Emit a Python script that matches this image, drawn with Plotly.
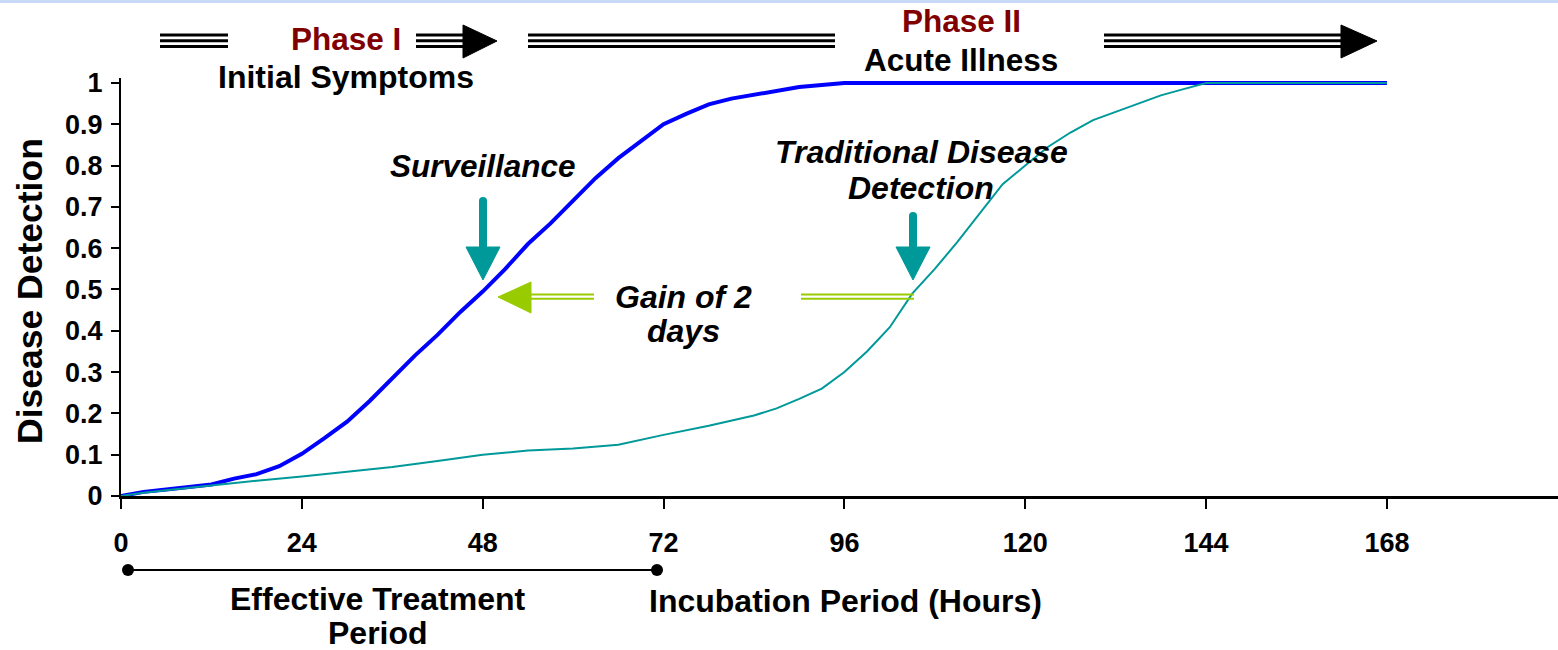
import plotly.graph_objects as go

# ---------------- data ----------------
surv_hours = [0, 3, 6, 9, 12, 15, 18, 21, 24, 27, 30, 33, 36, 39, 42, 45, 48, 51, 54, 57,
              60, 63, 66, 69, 72, 75, 78, 81, 84, 87, 90, 93, 96, 108, 120, 132, 144, 156, 168]
surv_values = [0, 0.01, 0.016, 0.022, 0.028, 0.042, 0.053, 0.072, 0.102, 0.14, 0.18, 0.23,
               0.285, 0.34, 0.39, 0.445, 0.495, 0.55, 0.61, 0.66, 0.715, 0.77, 0.818, 0.86,
               0.9, 0.925, 0.948, 0.962, 0.972, 0.98, 0.99, 0.995, 1.0, 1.0, 1.0, 1.0, 1.0, 1.0, 1.0]

trad_hours = [0, 3, 6, 12, 18, 24, 30, 36, 42, 48, 54, 60, 66, 72, 78, 84, 87, 90, 93, 96,
              99, 102, 105, 108, 111, 114, 117, 120, 123, 126, 129, 132, 135, 138, 141, 144,
              150, 156, 162, 168]
trad_values = [0, 0.008, 0.014, 0.026, 0.037, 0.047, 0.058, 0.07, 0.085, 0.1, 0.11, 0.115,
               0.124, 0.148, 0.17, 0.195, 0.212, 0.235, 0.26, 0.3, 0.35, 0.408, 0.49, 0.55,
               0.615, 0.685, 0.755, 0.8, 0.845, 0.88, 0.91, 0.93, 0.95, 0.97, 0.985, 1.0,
               1.0, 1.0, 1.0, 1.0]

x_ticks = [0, 24, 48, 72, 96, 120, 144, 168]
y_ticks = [0, 0.1, 0.2, 0.3, 0.4, 0.5, 0.6, 0.7, 0.8, 0.9, 1]
y_ticktext = ["0", "0.1", "0.2", "0.3", "0.4", "0.5", "0.6", "0.7", "0.8", "0.9", "1"]

# ---------------- layout geometry ----------------
W, H = 1558, 650
ML, MR, MT, MB = 121, 0, 78, 154
PW, PH = W - ML - MR, H - MT - MB
FONT = "Liberation Sans, Arial, sans-serif"
TEAL = "#009999"
BLUE = "#0000FF"
GREEN = "#99CC00"
DARKRED = "#800000"


def px(xp):
    return (xp - ML) / PW


def py(yp):
    return (H - MB - yp) / PH


fig = go.Figure()
fig.add_trace(go.Scatter(x=surv_hours, y=surv_values, mode="lines",
                         line=dict(color=BLUE, width=4), hoverinfo="skip", showlegend=False))
fig.add_trace(go.Scatter(x=trad_hours, y=trad_values, mode="lines",
                         line=dict(color=TEAL, width=2), hoverinfo="skip", showlegend=False))

shapes = []


def pline(x0, y0, x1, y1, color, width):
    shapes.append(dict(type="line", xref="paper", yref="paper",
                       x0=px(x0), y0=py(y0), x1=px(x1), y1=py(y1),
                       line=dict(color=color, width=width)))


def ppath(points, color):
    d = "M " + " L ".join(f"{px(a):.5f},{py(b):.5f}" for a, b in points) + " Z"
    shapes.append(dict(type="path", xref="paper", yref="paper", path=d,
                       fillcolor=color, line=dict(color=color, width=1)))


# top light blue strip
shapes.append(dict(type="rect", xref="paper", yref="paper", x0=px(0), x1=px(W),
                   y0=py(3), y1=py(0), fillcolor="#C9DAF8", line=dict(width=0)))

# triple-line arrows at top
for (a, b) in [(160, 228), (416, 466), (528, 835), (1104, 1343)]:
    for yy in (35, 40.7, 46.4):
        pline(a, yy, b, yy, "black", 3)
ppath([(463, 25), (497, 41), (463, 58)], "black")
ppath([(1341, 25), (1377, 41), (1341, 58)], "black")

# teal down arrows
for xc, ytop in [(483, 201), (913, 216)]:
    pline(xc, ytop, xc, 250, TEAL, 8)
    shapes.append(dict(type="circle", xref="paper", yref="paper",
                       x0=px(xc - 4), x1=px(xc + 4), y0=py(ytop + 4), y1=py(ytop - 4),
                       fillcolor=TEAL, line=dict(width=0)))
    ppath([(xc - 17, 247), (xc + 17, 247), (xc, 280)], TEAL)

# green "gain" arrow
for yy in (294.5, 298.8):
    pline(530, yy, 594, yy, GREEN, 2)
    pline(801, yy, 914, yy, GREEN, 2)
ppath([(531, 282), (531, 313), (498, 297)], GREEN)

# effective treatment dumbbell
pline(128, 570, 657, 570, "black", 2)
for xc in (128, 657):
    shapes.append(dict(type="circle", xref="paper", yref="paper",
                       x0=px(xc - 6), x1=px(xc + 6), y0=py(576), y1=py(564),
                       fillcolor="black", line=dict(width=0)))

annotations = []


def text(t, xc, yc, size, color="black", italic=False, angle=0):
    annotations.append(dict(text=t, xref="paper", yref="paper", x=px(xc), y=py(yc),
                            xanchor="center", yanchor="middle", showarrow=False,
                            textangle=angle, align="center",
                            font=dict(family=FONT, size=size, color=color, weight="bold",
                                      style="italic" if italic else "normal")))


text("Phase I", 346, 39, 31.5, DARKRED)
text("Initial Symptoms", 346, 77, 32)
text("Phase II", 961, 21, 31.5, DARKRED)
text("Acute Illness", 961, 60, 31.5)
text("Surveillance", 483, 166, 31.5, italic=True)
text("Traditional Disease", 921, 152, 32, italic=True)
text("Detection", 921, 188, 32, italic=True)
text("Gain of 2", 683, 297, 32, italic=True)
text("days", 683, 331, 32, italic=True)
text("Effective Treatment", 378, 599, 32)
text("Period", 378, 633, 32)
text("Incubation Period (Hours)", 845, 601, 32)
text("Disease Detection", 30, 291, 35.5, angle=-90)

fig.update_layout(
    width=W, height=H,
    margin=dict(l=ML, r=MR, t=MT, b=MB),
    paper_bgcolor="white", plot_bgcolor="white",
    shapes=shapes, annotations=annotations,
    xaxis=dict(range=[0, 190.7], tickvals=x_ticks, ticks="outside", ticklen=10, tickwidth=2,
               tickcolor="black", showline=True, linewidth=3, linecolor="black",
               showgrid=False, zeroline=False, ticklabelstandoff=11,
               tickfont=dict(family=FONT, size=27, color="black", weight="bold")),
    yaxis=dict(range=[0, 1.012], tickvals=y_ticks, ticktext=y_ticktext, ticks="outside",
               ticklen=8, tickwidth=2, tickcolor="black", showline=True, linewidth=2,
               linecolor="black", showgrid=False, zeroline=False, ticklabelstandoff=3,
               tickfont=dict(family=FONT, size=27, color="black", weight="bold")),
)

fig.write_html("out.html", config={"displayModeBar": False},
               post_script="document.body.style.margin='0';document.body.style.overflow='hidden';")
